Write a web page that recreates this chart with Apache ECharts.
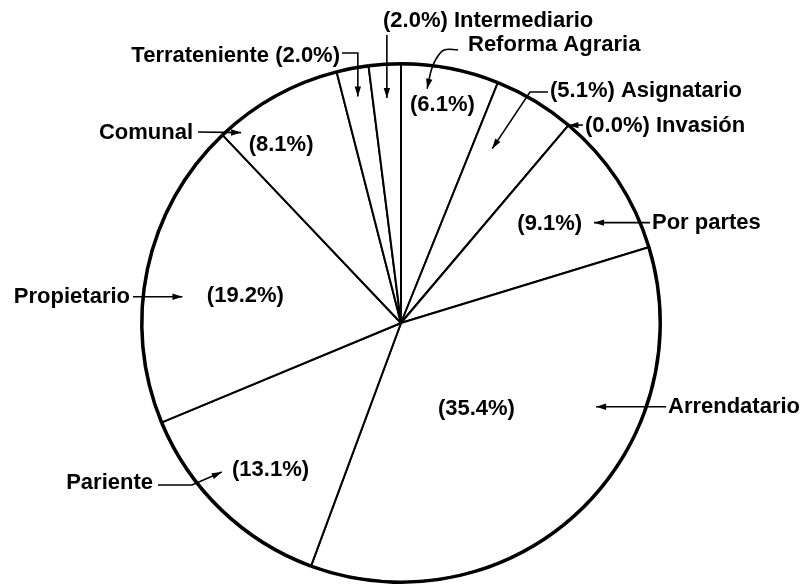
<!DOCTYPE html>
<html>
<head>
<meta charset="utf-8">
<script src="https://cdn.jsdelivr.net/npm/echarts@6/dist/echarts.min.js"></script>
<style>
html,body{margin:0;padding:0;background:#fff}
#main{width:808px;height:588px}
</style>
</head>
<body>
<div id="main"></div>
<script>
// slices, clockwise from 12 o'clock
const categories = ['Reforma Agraria', 'Asignatario', 'Invasión', 'Por partes', 'Arrendatario', 'Pariente', 'Propietario', 'Comunal', 'Terrateniente', 'Intermediario']
const percents = [6.1, 5.1, 0.0, 9.1, 35.4, 13.1, 19.2, 8.1, 2.0, 2.0]
const pctTexts = ['(6.1%)', '(5.1%)', '(0.0%)', '(9.1%)', '(35.4%)', '(13.1%)', '(19.2%)', '(8.1%)', '(2.0%)', '(2.0%)']

const CX = 401, CY = 323, R = 259
const FONT = 'bold 22px "Liberation Sans", Arial, sans-serif'

// percent text inside the slice: [fraction of slice angle, fraction of radius]
const innerPct = {
    'Reforma Agraria': [0.49, 0.857],
    'Por partes': [0.49, 0.69],
    'Arrendatario': [0.515, 0.44],
    'Pariente': [0.45, 0.76],
    'Propietario': [0.47, 0.61],
    'Comunal': [0.33, 0.83]
}

// name labels: text form, anchor (px from centre), leader points, arrow tip in slice
// y:null -> label sits on the tip's height (horizontal arrow)
const notes = {
    'Reforma Agraria': { form: 'name', x: 67, y: -278, align: 'left', path: [[57, -273], [43, -273], [35, -264], [30, -252]], tip: [0.29, 0.91] },
    'Asignatario': { form: 'pct name', x: 149, y: -232, align: 'left', path: [[147, -231], [129, -231]], tip: [0.31, 0.76] },
    'Invasión': { form: 'pct name', x: 184, y: -197, align: 'left', path: [[182, -198]], tip: [0, 1.0] },
    'Por partes': { form: 'name', x: 251, y: null, align: 'left', path: [[249, 0]], tip: [0.68, 0.84] },
    'Arrendatario': { form: 'name', x: 267, y: null, align: 'left', path: [[265, 0]], tip: [0.316, 0.82] },
    'Pariente': { form: 'name', x: -248, y: 160, align: 'right', path: [[-243, 162], [-209, 162]], tip: [0.635, 0.9] },
    'Propietario': { form: 'name', x: -271, y: null, align: 'right', path: [[-268, 0]], tip: [0.426, 0.85] },
    'Comunal': { form: 'name', x: -208, y: -190, align: 'right', path: [[-203, -191]], tip: [0.12, 0.96] },
    'Terrateniente': { form: 'name pct', x: -61, y: -267, align: 'right', path: [[-59, -270], ['tip', -270]], tip: [0.5, 0.89] },
    'Intermediario': { form: 'pct name', x: -18, y: -302, align: 'left', path: [['tip', -288]], tip: [0.5, 0.87] }
}

const chart = echarts.init(document.getElementById('main'))

const pieData = categories.map((name, i) => ({ name: name, value: percents[i] }))

chart.setOption({
    animation: false,
    backgroundColor: '#fff',
    series: [
        {
            type: 'pie',
            center: [CX, CY],
            radius: R,
            startAngle: 90,
            clockwise: true,
            silent: true,
            z: 1,
            label: { show: false },
            labelLine: { show: false },
            itemStyle: { color: '#fff', borderColor: '#000', borderWidth: 2 },
            data: pieData
        },
        {
            // heavier outline round the pie
            type: 'pie',
            center: [CX, CY],
            radius: [R - 1.5, R + 2],
            startAngle: 90,
            silent: true,
            z: 1,
            label: { show: false },
            labelLine: { show: false },
            itemStyle: { color: '#000', borderWidth: 0 },
            data: pieData
        }
    ]
})

function pointIn(idx, frac, rf) {
    const l = chart.getModel().getSeriesByIndex(0).getData().getItemLayout(idx)
    const a = l.startAngle + (l.endAngle - l.startAngle) * frac
    return [l.cx + l.r * rf * Math.cos(a), l.cy + l.r * rf * Math.sin(a)]
}

function arrowHead(from, tip) {
    const dx = tip[0] - from[0], dy = tip[1] - from[1]
    const len = Math.sqrt(dx * dx + dy * dy) || 1
    const ux = dx / len, uy = dy / len
    const L = 10, W = 3.2
    const bx = tip[0] - ux * L, by = tip[1] - uy * L
    return {
        type: 'polygon',
        silent: true,
        z: 100,
        shape: { points: [tip, [bx - uy * W, by + ux * W], [bx + uy * W, by - ux * W]] },
        style: { fill: '#000' }
    }
}

const elements = []

categories.forEach((name, i) => {
    const p = innerPct[name]
    if (p) {
        const pt = pointIn(i, p[0], p[1])
        elements.push({
            type: 'text',
            silent: true,
            z: 100,
            style: { x: pt[0], y: pt[1], text: pctTexts[i], font: FONT, fill: '#000', textAlign: 'center', textVerticalAlign: 'middle', verticalAlign: 'middle' }
        })
    }
    const n = notes[name]
    if (!n) return
    const tip = pointIn(i, n.tip[0], n.tip[1])
    const ly = n.y === null ? tip[1] : CY + n.y
    let txt = name
    if (n.form === 'pct name') txt = pctTexts[i] + ' ' + name
    if (n.form === 'name pct') txt = name + ' ' + pctTexts[i]
    elements.push({
        type: 'text',
        silent: true,
        z: 100,
        style: { x: CX + n.x, y: ly, text: txt, font: FONT, fill: '#000', textAlign: n.align, textVerticalAlign: 'middle', verticalAlign: 'middle' }
    })
    const pts = n.path.map(q => [
        q[0] === 'tip' ? tip[0] : CX + q[0],
        n.y === null ? tip[1] : CY + q[1]
    ])
    pts.push(tip)
    elements.push({
        type: 'polyline',
        silent: true,
        z: 100,
        shape: { points: pts, smooth: name === 'Reforma Agraria' ? 0.3 : 0 },
        style: { stroke: '#000', lineWidth: 1.6, fill: null }
    })
    elements.push(arrowHead(pts[pts.length - 2], tip))
})

chart.setOption({ graphic: { elements: elements } })
</script>
</body>
</html>
